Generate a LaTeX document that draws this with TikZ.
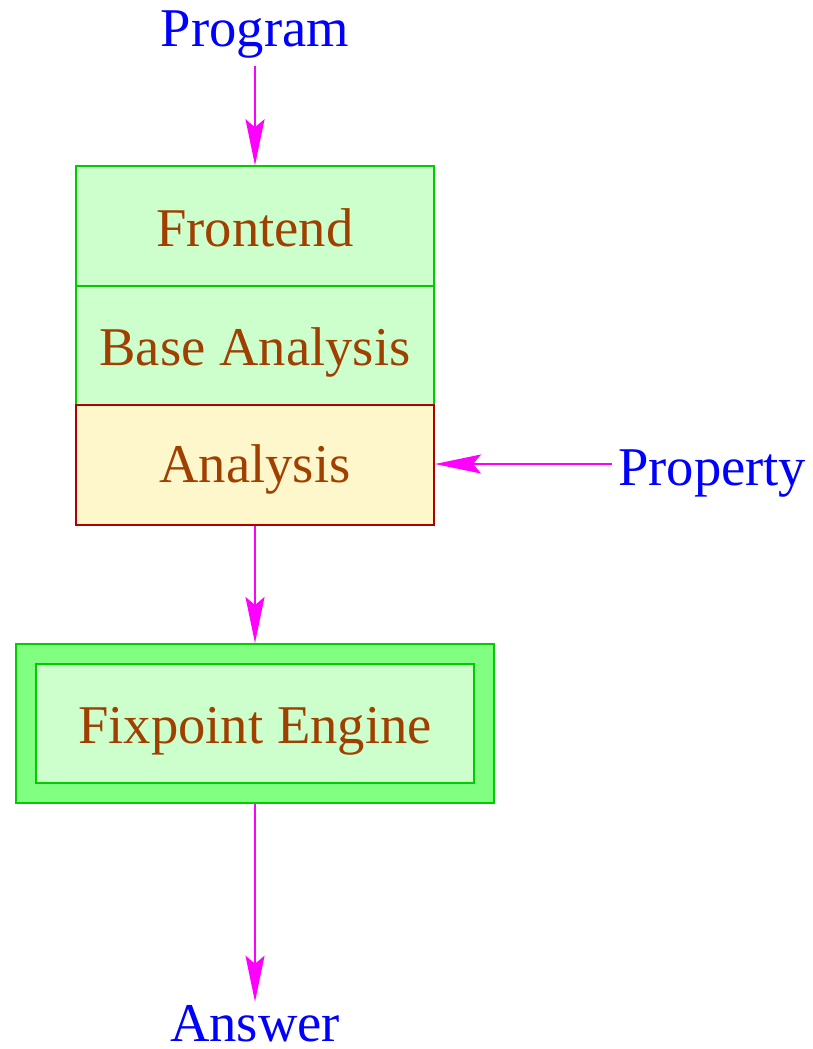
\documentclass[tikz,border=0pt]{standalone}
\usepackage{fontspec}
\setmainfont{Liberation Serif}
\usetikzlibrary{arrows.meta}

\definecolor{boxgreen}{HTML}{00CC00}
\definecolor{palegreen}{HTML}{CCFFCC}
\definecolor{brightgreen}{HTML}{80FF80}
\definecolor{paleyellow}{HTML}{FFF7CC}
\definecolor{darkred}{HTML}{B00000}
\definecolor{brown}{HTML}{A04000}
\definecolor{flowmag}{HTML}{FF00FF}

\tikzset{
  bigfont/.style={font=\fontsize{54.6}{60}\selectfont},
  io/.style={bigfont, text=blue, inner sep=0pt},
  stage/.style={bigfont, text=brown, rectangle, inner sep=0pt, text depth=0pt,
    minimum width=358pt, minimum height=119.5pt, line width=2pt},
  greenstage/.style={stage, draw=boxgreen, fill=palegreen},
  flow/.style={draw=flowmag, line width=2pt,
    -{Stealth[length=46pt, width=19pt, inset=8pt]}},
}

\begin{document}
\begin{tikzpicture}[x=1pt, y=-1pt]
  \useasboundingbox (0,0) rectangle (812,1049);

  % inputs and output
  \node[io, anchor=base] (program) at (255,47) {Program};
  \node[io, anchor=base west, text height=42pt, text depth=0pt] (property) at (618,485) {Property};
  \node[io, anchor=base] (answer) at (255,1041) {Answer};

  % analysis stack
  \node[greenstage, text height=41pt] (frontend) at (255,226) {Frontend};
  \node[greenstage, text height=39pt] (base) at (255,345.5) {Base Analysis};
  \node[stage, draw=darkred, fill=paleyellow, text height=34pt] (analysis) at (255,465) {Analysis};

  % fixpoint engine, double frame
  \node[rectangle, draw=boxgreen, fill=brightgreen, line width=2pt,
        minimum width=478pt, minimum height=159pt, inner sep=0pt] (fixouter) at (255,723.5) {};
  \node[greenstage, minimum width=438pt, minimum height=119pt, text height=39pt] (fixpoint) at (255,723.5) {Fixpoint Engine};

  % data flow
  \draw[flow, shorten <=7pt] (program.south) -- (frontend.north);
  \draw[flow, shorten <=6pt] (property.west) -- (property.west -| analysis.east);
  \draw[flow] (analysis.south) -- (fixouter.north);
  \draw[flow, shorten >=3pt] (fixouter.south) -- (answer.north);
\end{tikzpicture}
\end{document}
